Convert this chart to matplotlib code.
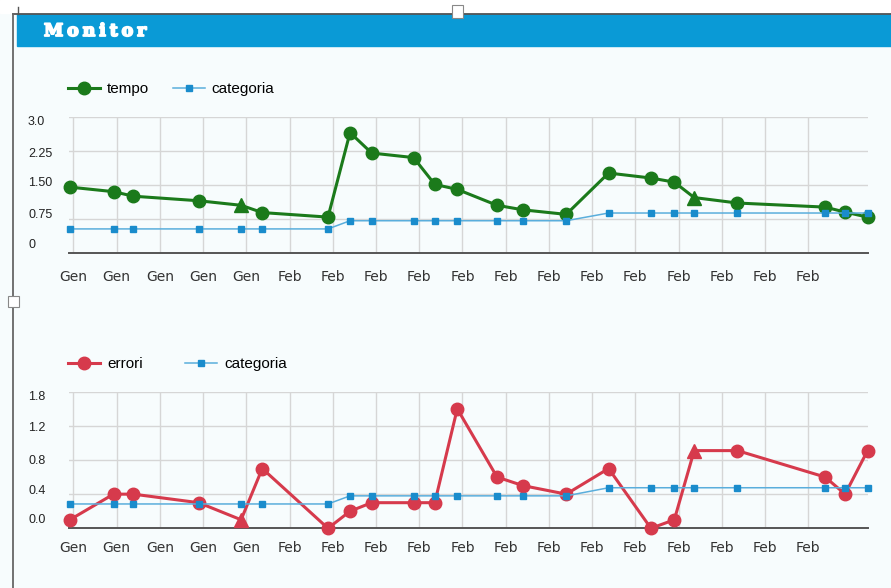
import matplotlib.pyplot as plt
from matplotlib.patches import Rectangle
from matplotlib.lines import Line2D
from matplotlib.transforms import ScaledTranslation
import matplotlib.patheffects as pe

# ---- data ----
x_pos = [-0.08, 0.93, 1.39, 2.90, 3.88, 4.37, 5.89, 6.40, 6.90, 7.87, 8.36, 8.88,
         9.80, 10.40, 11.40, 12.38, 13.36, 13.90, 14.36, 15.36, 17.39, 17.85, 18.37]
tempo = [1.45, 1.35, 1.25, 1.15, 1.05, 0.89, 0.79, 2.65, 2.20, 2.10, 1.51, 1.40,
         1.05, 0.95, 0.85, 1.76, 1.65, 1.56, 1.22, 1.10, 1.01, 0.90, 0.79]
cat_top = [0.53, 0.53, 0.53, 0.53, 0.53, 0.53, 0.53, 0.71, 0.71, 0.71, 0.71, 0.71,
           0.71, 0.71, 0.71, 0.88, 0.88, 0.88, 0.88, 0.88, 0.88, 0.88, 0.88]
errori = [0.10, 0.40, 0.40, 0.30, 0.10, 0.70, 0.00, 0.20, 0.30, 0.30, 0.30, 1.40,
          0.60, 0.50, 0.40, 0.70, 0.00, 0.10, 0.91, 0.91, 0.60, 0.40, 0.91]
cat_bot = [0.285, 0.285, 0.285, 0.285, 0.285, 0.285, 0.285, 0.38, 0.38, 0.38, 0.38, 0.38,
           0.38, 0.38, 0.38, 0.475, 0.475, 0.475, 0.475, 0.475, 0.475, 0.475, 0.475]
flagged = [4, 18]   # points drawn as triangles

x_labels = ["Gen"] * 5 + ["Feb"] * 13
top_ticks = [0, 0.75, 1.5, 2.25, 3.0]
top_ticklabels = ["0", "0.75", "1.50", "2.25", "3.0"]
bot_ticks = [0, 0.4, 0.8, 1.2, 1.6]
bot_ticklabels = ["0.0", "0.4", "0.8", "1.2", "1.8"]

W, H = 891, 588
BG = "#f7fcfd"
GREEN = "#1b7a1b"
RED = "#d63a4c"
BLUE = "#1a8ccc"
BLUE_LINE = "#5aaedc"

fig = plt.figure(figsize=(W / 100, H / 100), dpi=100, facecolor=BG)


def fx(x):
    return x / W


def fy(y):
    return 1 - y / H


# header / frame
fig.add_artist(Rectangle((0, fy(13)), 1, 13 / H, transform=fig.transFigure,
                         color="white", zorder=0))
fig.add_artist(Rectangle((fx(17), fy(46)), 1, 32 / H, transform=fig.transFigure,
                         color="#0a9ad6", zorder=1))
fig.add_artist(Line2D([fx(13), 1], [fy(13.5), fy(13.5)], transform=fig.transFigure,
                      color="#555555", lw=1.3))
fig.add_artist(Line2D([fx(13), fx(13)], [fy(13.5), 0], transform=fig.transFigure,
                      color="#666666", lw=1.3))
fig.add_artist(Line2D([fx(18), fx(18)], [fy(7), fy(13.5)], transform=fig.transFigure,
                      color="#555555", lw=1))
fig.add_artist(Rectangle((fx(452), fy(18)), 11 / W, 13 / H, transform=fig.transFigure,
                         facecolor="white", edgecolor="#888888", lw=0.8, zorder=3))
fig.add_artist(Rectangle((fx(8), fy(307)), 11 / W, 11 / H, transform=fig.transFigure,
                         facecolor="white", edgecolor="#888888", lw=0.8, zorder=3))

renderer = fig.canvas.get_renderer()
xp = 44
for ch in "Monitor":
    t = fig.text(fx(xp), fy(36), ch, color="white", fontsize=12.5, fontweight="bold",
                 family="DejaVu Serif", va="baseline", ha="left", zorder=4,
                 path_effects=[pe.withStroke(linewidth=1.3, foreground="white")])
    xp += t.get_window_extent(renderer).width + 3.9


def panel(rect, values, cats, color, name, ticks, ticklabels, label_shift,
          ylim, colspace, legend_y, pad_x):
    ax = fig.add_axes(rect)
    ax.set_facecolor("none")
    ax.plot(x_pos, values, color=color, lw=2.2, zorder=3, clip_on=False)
    circ = [i for i in range(len(x_pos)) if i not in flagged]
    ax.plot([x_pos[i] for i in circ], [values[i] for i in circ], "o", color=color,
            ms=9, zorder=4, clip_on=False)
    ax.plot([x_pos[i] for i in flagged], [values[i] for i in flagged], "^", color=color,
            ms=9.5, zorder=4, clip_on=False)
    ax.plot(x_pos, cats, color=BLUE_LINE, lw=1.1, zorder=5, clip_on=False)
    ax.plot(x_pos, cats, "s", color=BLUE, ms=4.5, zorder=6, clip_on=False)

    ax.set_xlim(-0.1, 18.38)
    ax.set_ylim(*ylim)
    ax.set_xticks(range(len(x_labels)))
    ax.set_xticklabels(x_labels, fontsize=10, color="#333333")
    ax.set_yticks(ticks)
    ax.set_yticklabels(ticklabels, fontsize=9, family="Liberation Sans", color="#222222")
    ax.tick_params(axis="both", length=0)
    ax.tick_params(axis="y", pad=29.5)
    ax.tick_params(axis="x", pad=pad_x)
    # the screenshot's y labels sit a bit off their gridlines
    for lab, dy in zip(ax.get_yticklabels(), label_shift):
        lab.set_horizontalalignment("left")
        lab.set_transform(lab.get_transform() +
                          ScaledTranslation(0, -dy / 100, fig.dpi_scale_trans))
    ax.grid(True, color="#d6d6d6", lw=1)
    ax.set_axisbelow(True)
    for s in ("top", "left", "right"):
        ax.spines[s].set_visible(False)
    ax.spines["bottom"].set_color("#555555")
    ax.spines["bottom"].set_linewidth(1.4)

    handles = [Line2D([], [], color=color, lw=2.2, marker="o", ms=9),
               Line2D([], [], color=BLUE_LINE, lw=1.1, marker="s", ms=4.5,
                      markerfacecolor=BLUE, markeredgecolor=BLUE)]
    fig.legend(handles, [name, "categoria"], loc="center left",
               bbox_to_anchor=(fx(68), fy(legend_y)), bbox_transform=fig.transFigure,
               ncol=2, frameon=False, borderpad=0, borderaxespad=0,
               handlelength=2.1, handletextpad=0.45, columnspacing=colspace,
               prop={"family": "Liberation Sans", "size": 11})
    return ax


panel([fx(69), fy(253), 799 / W, 136.3 / H], tempo, cat_top, GREEN, "tempo",
      top_ticks, top_ticklabels, [-10, -5, -3, 1.6, 4], (0, 3.0), 1.55, 89, 12)
panel([fx(69), fy(528.3), 799 / W, 136.6 / H], errori, cat_bot, RED, "errori",
      bot_ticks, bot_ticklabels, [-10, -4.7, -1, 1, 3.3], (0, 1.6), 2.8, 364, 9)

fig.savefig("out.png", dpi=100, facecolor=BG)
